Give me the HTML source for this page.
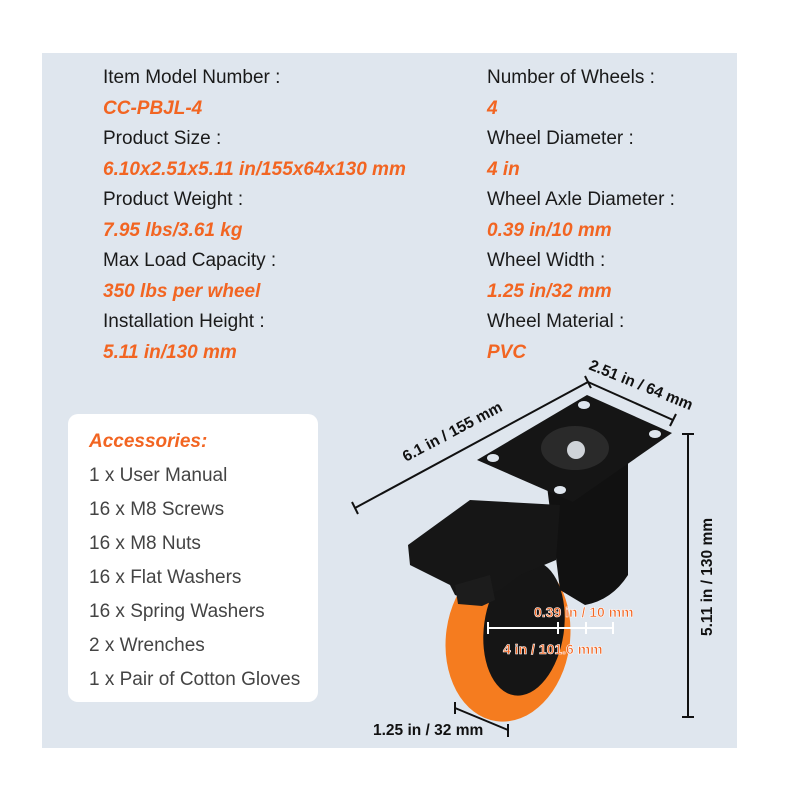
<!DOCTYPE html>
<html><head><meta charset="utf-8"><style>
body{margin:0;width:800px;height:800px;background:#fff;position:relative;overflow:hidden;font-family:"Liberation Sans",Arial,sans-serif}
#panel{position:absolute;left:42px;top:53px;width:695px;height:695px;background:#dfe6ee}
.l{position:absolute;font-size:19px;color:#1a1a1a;white-space:nowrap;line-height:20px;margin-top:2px}
.v{position:absolute;font-size:19px;color:#f26522;font-weight:bold;font-style:italic;white-space:nowrap;line-height:20px;margin-top:2px}
#acc{position:absolute;left:68px;top:414px;width:250px;height:288px;background:#fff;border-radius:10px}
.a{position:absolute;left:89px;font-size:19px;color:#444;white-space:nowrap;line-height:20px;margin-top:2px}
svg{position:absolute;left:0;top:0}
</style></head><body>
<div id="panel"></div>
<div class="l" style="left:103px;top:66px">Item Model Number :</div>
<div class="v" style="left:103px;top:97px">CC-PBJL-4</div>
<div class="l" style="left:103px;top:127px">Product Size :</div>
<div class="v" style="left:103px;top:158px">6.10x2.51x5.11 in/155x64x130 mm</div>
<div class="l" style="left:103px;top:188px">Product Weight :</div>
<div class="v" style="left:103px;top:219px">7.95 lbs/3.61 kg</div>
<div class="l" style="left:103px;top:249px">Max Load Capacity :</div>
<div class="v" style="left:103px;top:280px">350 lbs per wheel</div>
<div class="l" style="left:103px;top:310px">Installation Height :</div>
<div class="v" style="left:103px;top:341px">5.11 in/130 mm</div>
<div class="l" style="left:487px;top:66px">Number of Wheels :</div>
<div class="v" style="left:487px;top:97px">4</div>
<div class="l" style="left:487px;top:127px">Wheel Diameter :</div>
<div class="v" style="left:487px;top:158px">4 in</div>
<div class="l" style="left:487px;top:188px">Wheel Axle Diameter :</div>
<div class="v" style="left:487px;top:219px">0.39 in/10 mm</div>
<div class="l" style="left:487px;top:249px">Wheel Width :</div>
<div class="v" style="left:487px;top:280px">1.25 in/32 mm</div>
<div class="l" style="left:487px;top:310px">Wheel Material :</div>
<div class="v" style="left:487px;top:341px">PVC</div>
<div id="acc"></div>
<div class="v" style="left:89px;top:430px;font-size:19px">Accessories:</div>
<div class="a" style="top:464px">1 x User Manual</div>
<div class="a" style="top:498px">16 x M8 Screws</div>
<div class="a" style="top:532px">16 x M8 Nuts</div>
<div class="a" style="top:566px">16 x Flat Washers</div>
<div class="a" style="top:600px">16 x Spring Washers</div>
<div class="a" style="top:634px">2 x Wrenches</div>
<div class="a" style="top:668px">1 x Pair of Cotton Gloves</div>
<svg width="800" height="800" viewBox="0 0 800 800">
<g>
<ellipse cx="508" cy="638" rx="62" ry="84" transform="rotate(8 508 638)" fill="#f57c1f"/>
<ellipse cx="524" cy="628" rx="40" ry="68" transform="rotate(8 524 628)" fill="#151515"/>
<path d="M545 470 L628 440 L628 575 Q612 600 585 605 L560 590 Z" fill="#111"/>
<path d="M408 545 L470 500 L560 505 L556 560 L520 575 L500 590 L470 600 L455 595 L450 585 L410 565 Z" fill="#161616"/>
<path d="M455 585 L490 575 L495 600 L482 606 L458 604 Z" fill="#1c1c1c"/>
<path d="M477 460 L587 395 L672 433 L573 502 Z" fill="#151515"/>
<ellipse cx="575" cy="448" rx="34" ry="22" fill="#2a2a2a"/>
<circle cx="576" cy="450" r="9" fill="#cfd3d8"/>
<ellipse cx="493" cy="458" rx="6" ry="4" fill="#dfe6ee"/>
<ellipse cx="584" cy="405" rx="6" ry="4" fill="#dfe6ee"/>
<ellipse cx="655" cy="434" rx="6" ry="4" fill="#dfe6ee"/>
<ellipse cx="560" cy="490" rx="6" ry="4" fill="#dfe6ee"/>
</g>
<g stroke="#111" stroke-width="2" fill="none">
<line x1="355" y1="508" x2="588" y2="382"/>
<line x1="352" y1="502" x2="358" y2="514"/>
<line x1="585" y1="376" x2="591" y2="388"/>
<line x1="588" y1="382" x2="673" y2="420"/>
<line x1="670" y1="426" x2="676" y2="414"/>
<line x1="688" y1="434" x2="688" y2="717"/>
<line x1="682" y1="434" x2="694" y2="434"/>
<line x1="682" y1="717" x2="694" y2="717"/>
<line x1="455" y1="708" x2="508" y2="730"/>
<line x1="455" y1="702" x2="455" y2="714"/>
<line x1="508" y1="724" x2="508" y2="737"/>
</g>
<g stroke="#fff" stroke-width="2">
<line x1="488" y1="628" x2="613" y2="628"/>
<line x1="488" y1="622" x2="488" y2="634"/>
<line x1="558" y1="622" x2="558" y2="634"/>
<line x1="586" y1="622" x2="586" y2="634"/>
<line x1="613" y1="622" x2="613" y2="634"/>
</g>
<g font-family="Liberation Sans,Arial,sans-serif" font-weight="bold" font-size="15.5" fill="#111">
<text transform="translate(406 462) rotate(-28)">6.1 in / 155 mm</text>
<text transform="translate(588 369) rotate(22)">2.51 in / 64 mm</text>
<text transform="translate(712 636) rotate(-90)">5.11 in / 130 mm</text>
<text x="373" y="735">1.25 in / 32 mm</text>
<text x="534" y="617" fill="#f26522" stroke="#fff" stroke-width="0.6" font-size="14">0.39 in / 10 mm</text>
<text x="503" y="654" fill="#f26522" stroke="#fff" stroke-width="0.6" font-size="14">4 in / 101.6 mm</text>
</g>
</svg>
</body></html>
